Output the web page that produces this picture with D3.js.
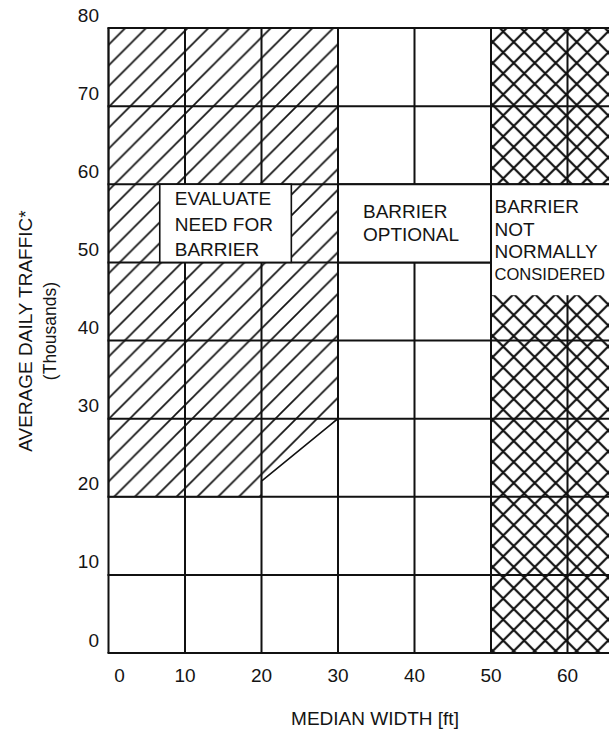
<!DOCTYPE html>
<html>
<head>
<meta charset="utf-8">
<script src="https://cdn.jsdelivr.net/npm/d3@7"></script>
<style>
  html, body { margin: 0; padding: 0; background: #fff; }
  svg { display: block; }
  text { font-family: "Liberation Sans", Arial, Helvetica, sans-serif; fill: #141414; }
</style>
</head>
<body>
<svg id="chart" width="609" height="732"></svg>
<script>
// ---- data ----
const xTicks = [0, 10, 20, 30, 40, 50, 60];
const yTicks = [0, 10, 20, 30, 40, 50, 60, 70, 80];
const xGrid = [0, 10, 20, 30, 40, 50, 60, 70];
const yGrid = [0, 10, 20, 30, 40, 50, 60, 70, 80];
// zone "evaluate need for barrier" (hatched) : [median width, ADT thousands]
const evaluateZone = [[0, 20], [20, 20], [20, 22], [30, 30], [30, 80], [0, 80]];
// zone "barrier not normally considered" (cross-hatched)
const notConsideredZone = [[50, 0], [70, 0], [70, 80], [50, 80]];
// label boxes: [x0, x1, y0, y1]
const evaluateBox = [6.7, 23.9, 50, 60];
const optionalBox = [30, 50, 50, 60];
const notConsideredBox = [50, 70, 45.8, 60];
const evaluateText = ["EVALUATE", "NEED FOR", "BARRIER"];
const optionalText = ["BARRIER", "OPTIONAL"];
const notConsideredText = ["BARRIER", "NOT", "NORMALLY", "CONSIDERED"];
const xTitle = "MEDIAN WIDTH [ft]";
const yTitle = "AVERAGE DAILY TRAFFIC*";
const yTitle2 = "(Thousands)";

// ---- layout ----
const svg = d3.select("#chart");
const x = d3.scaleLinear().domain([0, 60]).range([108.5, 567.5]);
const y = d3.scaleLinear().domain([0, 80]).range([653, 28]);
const ink = "#111";
const W = 609;

const defs = svg.append("defs");
// single diagonal hatch
const P1 = 20.8;
const hatch = defs.append("pattern").attr("id", "hatch")
  .attr("patternUnits", "userSpaceOnUse").attr("width", P1).attr("height", P1)
  .attr("x", 7.7).attr("y", 0);
hatch.append("path")
  .attr("d", `M${-P1/2},${P1/2} L${P1/2},${-P1/2} M0,${P1} L${P1},0 M${P1/2},${P1*1.5} L${P1*1.5},${P1/2}`)
  .attr("stroke", ink).attr("stroke-width", 1.7).attr("fill", "none");
// cross hatch
const P2 = 21;
const cross = defs.append("pattern").attr("id", "cross")
  .attr("patternUnits", "userSpaceOnUse").attr("width", P2).attr("height", P2)
  .attr("x", 9.7).attr("y", 0);
cross.append("path")
  .attr("d", `M${-P2/2},${P2/2} L${P2/2},${-P2/2} M0,${P2} L${P2},0 M${P2/2},${P2*1.5} L${P2*1.5},${P2/2}` +
             ` M${-P2/2},${P2/2} L${P2/2},${P2*1.5} M0,0 L${P2},${P2} M${P2/2},${-P2/2} L${P2*1.5},${P2/2}`)
  .attr("stroke", ink).attr("stroke-width", 2.2).attr("fill", "none");

const line = d3.line().x(d => x(d[0])).y(d => y(d[1]));

// zones
svg.append("path").datum(evaluateZone)
  .attr("d", d => line(d) + "Z")
  .attr("fill", "url(#hatch)")
  .attr("stroke", ink).attr("stroke-width", 1.6);
svg.append("path").datum(notConsideredZone)
  .attr("d", d => line(d) + "Z")
  .attr("fill", "url(#cross)").attr("stroke", "none");

// grid
svg.append("g").selectAll("line").data(xGrid).join("line")
  .attr("x1", d => x(d)).attr("x2", d => x(d))
  .attr("y1", y(0)).attr("y2", y(80))
  .attr("stroke", ink).attr("stroke-width", 2);
svg.append("g").selectAll("line").data(yGrid).join("line")
  .attr("x1", x(0) - 1).attr("x2", x(70))
  .attr("y1", d => y(d)).attr("y2", d => y(d))
  .attr("stroke", ink).attr("stroke-width", 2);

// label boxes
function box(b, bordered) {
  const r = svg.append("rect")
    .attr("x", x(b[0])).attr("y", y(b[3]))
    .attr("width", x(b[1]) - x(b[0])).attr("height", y(b[2]) - y(b[3]))
    .attr("fill", "#fff");
  if (bordered) r.attr("stroke", ink).attr("stroke-width", 1.6);
}
box(optionalBox, false);
box(notConsideredBox, false);
// redraw the borders that the unbordered boxes share with the grid
svg.append("line").attr("x1", x(30)).attr("x2", x(70)).attr("y1", y(60)).attr("y2", y(60))
  .attr("stroke", ink).attr("stroke-width", 2);
svg.append("line").attr("x1", x(30)).attr("x2", x(50)).attr("y1", y(50)).attr("y2", y(50))
  .attr("stroke", ink).attr("stroke-width", 2);
svg.append("line").attr("x1", x(30)).attr("x2", x(30)).attr("y1", y(45)).attr("y2", y(61))
  .attr("stroke", ink).attr("stroke-width", 2);
svg.append("line").attr("x1", x(50)).attr("x2", x(50)).attr("y1", y(40)).attr("y2", y(61))
  .attr("stroke", ink).attr("stroke-width", 2);
box(evaluateBox, true);

function block(lines, bx, x0, y0, lh) {
  const left = x(bx[0]) + x0;
  svg.append("g").selectAll("text").data(lines).join("text")
    .attr("x", left)
    .attr("y", (d, i) => y(bx[3]) + y0 + i * lh)
    .attr("font-size", 19)
    .text(d => d)
    .each(function () {
      // shrink a line that would run past the right edge of the picture
      const w = this.getComputedTextLength();
      const room = W - 4 - left;
      if (w > room) {
        d3.select(this).attr("font-size", 19 * room / w);
      }
    });
}
block(evaluateText, evaluateBox, 15, 21, 25.5);
block(optionalText, optionalBox, 25, 34, 22.7);
block(notConsideredText, notConsideredBox, 3.5, 29, 22.3);

// tick labels
svg.append("g").selectAll("text").data(yTicks).join("text")
  .attr("x", 99).attr("y", d => y(d) - 6.5)
  .attr("text-anchor", "end").attr("font-size", 19)
  .text(d => d);
svg.append("g").selectAll("text").data(xTicks).join("text")
  .attr("x", d => x(d) + (d === 0 ? 11 : 0)).attr("y", 682)
  .attr("text-anchor", "middle").attr("font-size", 19)
  .text(d => d);

// axis titles
svg.append("text").attr("x", 375).attr("y", 725)
  .attr("text-anchor", "middle").attr("font-size", 19).text(xTitle);
svg.append("text").attr("transform", "translate(32,331) rotate(-90)")
  .attr("text-anchor", "middle").attr("font-size", 19).text(yTitle);
svg.append("text").attr("transform", "translate(56,331) rotate(-90)")
  .attr("text-anchor", "middle").attr("font-size", 17.5).text(yTitle2);
</script>
</body>
</html>
